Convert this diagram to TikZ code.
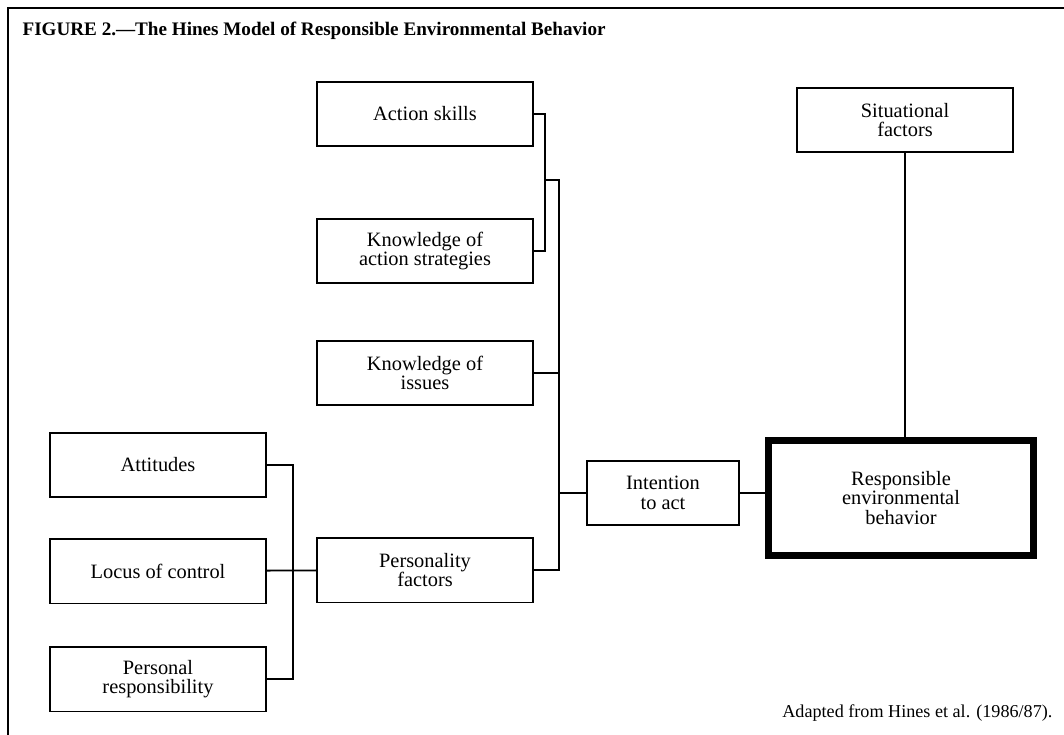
\documentclass[tikz,border=0pt]{standalone}
\usepackage{fontspec}
\setmainfont{Liberation Serif}
\usetikzlibrary{positioning}

\begin{document}
\begin{tikzpicture}[x=0.025cm,y=-0.025cm,line width=1.3pt,
  every node/.style={font=\fontsize{14.5}{14}\selectfont},
  box/.style={draw,align=center,inner sep=2pt,minimum width=54mm,minimum height=16.2mm},
  smallbox/.style={box,minimum width=37.8mm},
  bigbox/.style={draw,align=center,line width=5pt,minimum width=66.2mm,minimum height=28.6mm}]
\useasboundingbox (0,0) rectangle (1064,735);
\begin{scope}
\clip (0,0) rectangle (1064,735);
\draw (8,8) rectangle (1080,750);
\end{scope}
\node[anchor=base west,font=\fontsize{13.6}{14}\selectfont\bfseries] (title) at (17,36)
  {FIGURE 2.---The Hines Model of Responsible Environmental Behavior};
% knowledge side
\node[box] (skills) at (425,114) {Action skills};
\node[box] (strat) at (425,251) {Knowledge of\\action strategies};
\node[box] (issues) at (425,373) {Knowledge of\\issues};
\node[box] (pers) at (425,570) {Personality\\factors};
% personality side
\node[box] (att) at (158,465) {Attitudes};
\node[box] (locus) at (158,571) {Locus of control};
\node[box] (resp) at (158,679) {Personal\\responsibility};
% right part
\node[smallbox] (intent) at (663,493) {Intention\\to act};
\node[bigbox] (reb) at (901,498) {Responsible\\environmental\\behavior};
\node[box,minimum width=53.8mm] (sit) at (905,120) {Situational\\factors};
\node[anchor=base east,font=\fontsize{12.9}{14}\selectfont] (source) at (1058,717)
  {Adapted from Hines et al. (1986/87).};
\coordinate (kbar) at (545,180);
\coordinate (mbar) at (559,180);
\coordinate (pbar) at (293,571);
\draw (skills.east) -| (kbar) |- (strat.east);
\draw (kbar) -- (mbar) |- (pers.east);
\draw (issues.east) -- (issues.east -| mbar);
\draw (intent.west) -- (intent.west -| mbar);
\draw (intent.east) -- (intent.east -| reb.west);
\draw (sit.south) -- (sit.south |- reb.north);
\draw (att.east) -- (att.east -| pbar) |- (resp.east);
\draw (locus) -- (pers);
\end{tikzpicture}
\end{document}
